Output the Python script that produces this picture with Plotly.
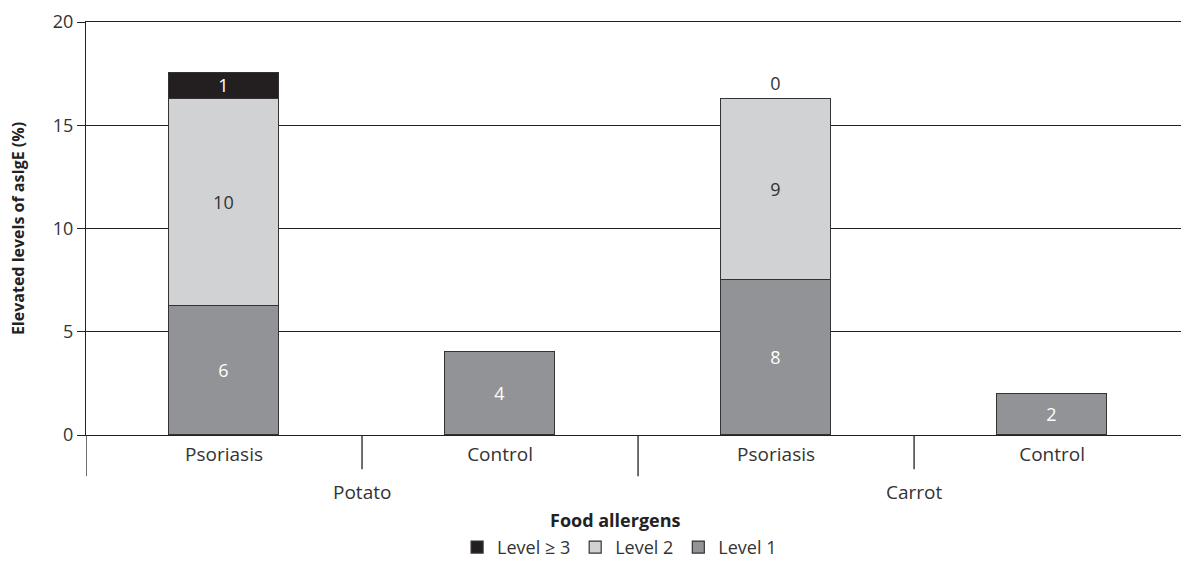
import plotly.graph_objects as go

# ---- data ----
subgroups = ["Psoriasis", "Control", "Psoriasis", "Control"]
groups = ["Potato", "Carrot"]
level1 = [6.25, 4.0, 7.5, 2.0]
level2 = [10.0, None, 8.75, None]
level3 = [1.3, None, 0.0, None]
level1_labels = ["6", "4", "8", "2"]
level2_labels = ["10", "", "9", ""]
level3_labels = ["1", "", "0", ""]
y_ticks = [0, 5, 10, 15, 20]

xpos = list(range(len(subgroups)))
FONT = "Open Sans, Noto Sans, sans-serif"
EDGE = "#333333"
TXT = "#333333"
FS = 18
FC = 19

fig = go.Figure()
fig.add_trace(go.Bar(
    x=xpos, y=level1, name="Level 1", text=level1_labels,
    marker=dict(color="#929396", line=dict(color=EDGE, width=1.2)),
    width=0.4, textposition="inside", insidetextanchor="middle",
    textangle=0, constraintext="none",
    textfont=dict(color="white", size=FS, family=FONT),
))
fig.add_trace(go.Bar(
    x=xpos, y=level2, name="Level 2", text=level2_labels,
    marker=dict(color="#d1d2d4", line=dict(color=EDGE, width=1.2)),
    width=0.4, textposition="inside", insidetextanchor="middle",
    textangle=0, constraintext="none",
    textfont=dict(color=TXT, size=FS, family=FONT),
))
fig.add_trace(go.Bar(
    x=xpos, y=level3, name="Level ≥ 3", text=level3_labels,
    marker=dict(color="#231f20", line=dict(color=EDGE, width=1.2)),
    width=0.4, textposition=["inside", "none", "outside", "none"],
    insidetextanchor="middle", textangle=0, constraintext="none",
    insidetextfont=dict(color="white", size=FS, family=FONT),
    outsidetextfont=dict(color=TXT, size=FS, family=FONT),
    cliponaxis=False,
))

# dividers below the axis
shapes = []
for xd, ylow in [(-0.5, -0.1), (0.5, -0.083), (1.5, -0.1), (2.5, -0.083)]:
    shapes.append(dict(type="line", xref="x", yref="paper", x0=xd, x1=xd,
                       y0=0, y1=ylow, line=dict(color="#222222", width=1.3)))

annotations = []
for gi, g in enumerate(groups):
    annotations.append(dict(x=gi * 2 + 0.5, y=-0.138, xref="x", yref="paper",
                            text=g, showarrow=False, yanchor="middle",
                            font=dict(size=FC, color=TXT, family=FONT)))
annotations.append(dict(x=0.484, y=-0.205, xref="paper", yref="paper",
                        text="<b>Food allergens</b>", showarrow=False,
                        yanchor="middle",
                        font=dict(size=18, color="#222222", family=FONT)))

fig.update_layout(
    width=1181, height=561,
    margin=dict(l=86, r=0, t=22, b=126, autoexpand=False),
    paper_bgcolor="white", plot_bgcolor="white",
    barmode="stack", bargap=0,
    font=dict(family=FONT, color=TXT, size=FS),
    xaxis=dict(range=[-0.5, 3.467], tickvals=xpos, ticktext=subgroups,
               showgrid=False, zeroline=False, showline=True, mirror=True,
               linecolor="#222222", linewidth=1.3, ticks="",
               ticklabelstandoff=2,
               tickfont=dict(size=FC, color=TXT)),
    yaxis=dict(range=[0, 20], tickvals=y_ticks, showgrid=True,
               gridcolor="#222222", gridwidth=1.2, zeroline=False,
               showline=True, linecolor="#222222", linewidth=1.3,
               ticks="outside", ticklen=8, tickcolor="#222222", tickwidth=1.3,
               tickfont=dict(size=FS, color=TXT),
               title=dict(text="<b>Elevated levels of asIgE (%)</b>",
                          font=dict(size=16, color="#222222"), standoff=24)),
    legend=dict(orientation="h", x=0.4873, xanchor="center", y=-0.272,
                yanchor="middle", traceorder="reversed", itemwidth=30,
                font=dict(size=18, color=TXT)),
    shapes=shapes, annotations=annotations,
)

fig.write_html(
    "out.html",
    config={"displayModeBar": False},
    post_script="document.body.style.margin='0';document.body.style.overflow='hidden';",
)
